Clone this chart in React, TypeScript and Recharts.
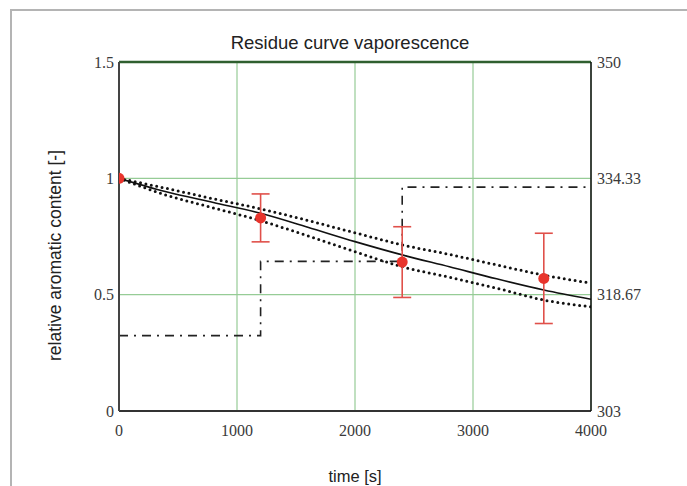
import {
  ComposedChart,
  Line,
  Scatter,
  ErrorBar,
  XAxis,
  YAxis,
  CartesianGrid,
  ReferenceLine,
} from "recharts";

// time axis [s]
const times = [0, 400, 800, 1200, 1600, 2000, 2400, 2800, 3200, 3600, 4000];
// model curve and its upper / lower bounds
const model = [1.0, 0.942, 0.896, 0.85, 0.79, 0.728, 0.671, 0.62, 0.568, 0.52, 0.48];
const upper = [1.0, 0.957, 0.912, 0.869, 0.819, 0.766, 0.714, 0.673, 0.628, 0.584, 0.55];
const lower = [1.0, 0.928, 0.873, 0.818, 0.753, 0.685, 0.62, 0.575, 0.528, 0.477, 0.448];

// measurements with error
const measT = [0, 1200, 2400, 3600];
const measY = [1.0, 0.83, 0.64, 0.57];
const measErr = [0, 0.103, 0.152, 0.194];

// temperature program [K] (right axis)
const tempT = [0, 1200, 2400, 4000];
const tempK = [313.15, 323.15, 333.15, 333.15];

const xTicks = [0, 1000, 2000, 3000, 4000];
const leftTicks = [0, 0.5, 1, 1.5];
const rightTicks = [303, 318.67, 334.33, 350];

const curveData = times.map((t, i) => ({ t, model: model[i], upper: upper[i], lower: lower[i] }));
const measData = measT.map((t, i) => ({ t, y: measY[i], err: measErr[i] }));
const tempData = tempT.map((t, i) => ({ t, T: tempK[i] }));

const tickStyle = { fill: "#3a3a3a", fontSize: 16, fontFamily: "'Liberation Serif', serif" };
const sans = "'Liberation Sans', Arial, sans-serif";

export default function App() {
  return (
    <div
      style={{
        position: "absolute",
        left: 0,
        top: 0,
        width: 687,
        height: 486,
        overflow: "hidden",
        background: "#fff",
      }}
    >
      <div
        style={{
          position: "absolute",
          left: 10,
          top: 9,
          width: 700,
          height: 500,
          borderTop: "2px solid #b4b4b4",
          borderLeft: "2px solid #b4b4b4",
        }}
      />
      <div
        style={{
          position: "absolute",
          left: 0,
          width: 700,
          top: 32,
          textAlign: "center",
          fontFamily: sans,
          fontSize: 18.5,
          color: "#222",
        }}
      >
        Residue curve vaporescence
      </div>
      <div
        style={{
          position: "absolute",
          left: 355 - 60,
          width: 120,
          top: 467,
          textAlign: "center",
          fontFamily: sans,
          fontSize: 16.5,
          color: "#222",
        }}
      >
        time [s]
      </div>
      <div
        style={{
          position: "absolute",
          left: 55 - 150,
          top: 255 - 10,
          width: 300,
          textAlign: "center",
          transform: "rotate(-90deg)",
          fontFamily: sans,
          fontSize: 17.5,
          color: "#222",
        }}
      >
        relative aromatic content [-]
      </div>
      <div style={{ position: "absolute", left: 0, top: 0 }}>
        <ComposedChart
          width={687}
          height={486}
          margin={{ top: 62, right: 36, left: 59, bottom: 45 }}
        >
          <CartesianGrid stroke="#96cc96" strokeWidth={1.2} />
          <XAxis
            dataKey="t"
            type="number"
            domain={[0, 4000]}
            ticks={xTicks}
            height={30}
            tick={tickStyle}
            tickLine={false}
            axisLine={{ stroke: "#333", strokeWidth: 2 }}
            tickMargin={8}
            allowDataOverflow
          />
          <YAxis
            type="number"
            domain={[0, 1.5]}
            ticks={leftTicks}
            width={60}
            tick={tickStyle}
            tickLine={false}
            axisLine={{ stroke: "#444", strokeWidth: 2 }}
            tickMargin={-1}
            allowDataOverflow
          />
          <YAxis
            yAxisId="right"
            orientation="right"
            type="number"
            domain={[303, 350]}
            ticks={rightTicks}
            width={60}
            tick={tickStyle}
            tickLine={false}
            axisLine={{ stroke: "#111", strokeWidth: 1.5 }}
            tickMargin={0}
            allowDataOverflow
          />
          <ReferenceLine y={1.5} stroke="#2f5f2f" strokeWidth={2.5} />
          <Line
            yAxisId="right"
            data={tempData}
            dataKey="T"
            type="stepAfter"
            stroke="#222"
            strokeWidth={1.6}
            strokeDasharray="9 6 2 6"
            dot={false}
            isAnimationActive={false}
          />
          <Line
            data={curveData}
            dataKey="upper"
            type="monotone"
            stroke="#111"
            strokeWidth={3}
            strokeDasharray="0 5.5"
            strokeLinecap="round"
            dot={false}
            isAnimationActive={false}
          />
          <Line
            data={curveData}
            dataKey="lower"
            type="monotone"
            stroke="#111"
            strokeWidth={3}
            strokeDasharray="0 5.5"
            strokeLinecap="round"
            dot={false}
            isAnimationActive={false}
          />
          <Line
            data={curveData}
            dataKey="model"
            type="monotone"
            stroke="#111"
            strokeWidth={1.6}
            dot={false}
            isAnimationActive={false}
          />
          <Scatter
            data={measData}
            dataKey="y"
            fill="#e8342c"
            isAnimationActive={false}
            shape={(p: any) => <circle cx={p.cx} cy={p.cy} r={5.5} fill="#e8342c" />}
          >
            <ErrorBar
              dataKey="err"
              direction="y"
              width={9}
              stroke="#e0504a"
              strokeWidth={1.6}
              isAnimationActive={false}
            />
          </Scatter>
        </ComposedChart>
      </div>
    </div>
  );
}
